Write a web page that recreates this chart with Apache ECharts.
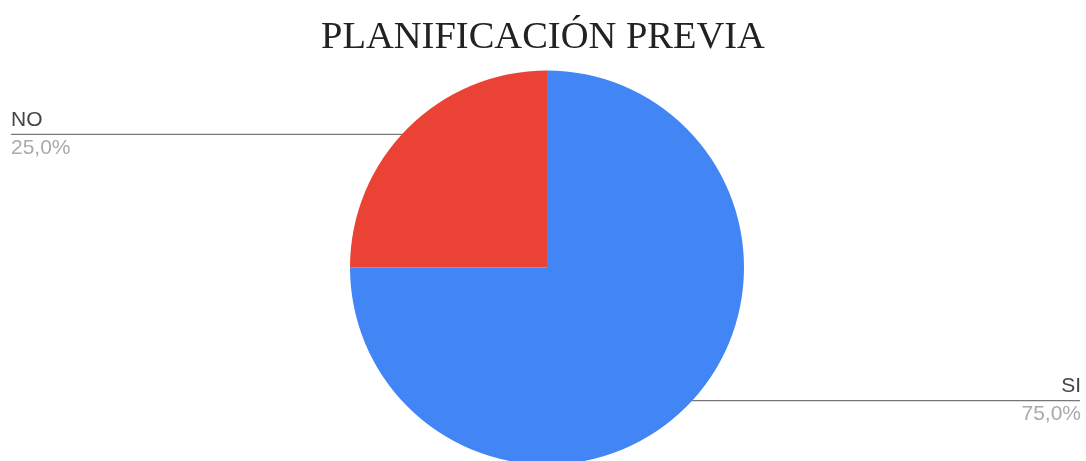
<!DOCTYPE html>
<html>
<head>
<meta charset="utf-8">
<script src="https://cdn.jsdelivr.net/npm/echarts@6/dist/echarts.min.js"></script>
<style>
  html, body { margin: 0; padding: 0; background: #ffffff; }
  #chart { width: 1086px; height: 461px; }
</style>
</head>
<body>
<div id="chart"></div>
<script>
// Answers to the survey question, share of respondents
const categories = ['SI', 'NO'];
const values = [75, 25];
const colors = ['#4285F4', '#EA4335'];
const titleText = 'PLANIFICACIÓN PREVIA';

// Pie geometry (pixels)
const CENTER = [547, 267.5];
const RADIUS = 197;
const LEFT_EDGE = 11;
const RIGHT_EDGE = 1081;

const chart = echarts.init(document.getElementById('chart'), null, { renderer: 'canvas' });

const fmtPct = (p) => p.toFixed(1).replace('.', ',') + '%';

chart.setOption({
  animation: false,
  backgroundColor: '#ffffff',
  title: {
    text: titleText,
    left: 'center',
    top: 13,
    textStyle: {
      fontFamily: '"Liberation Serif", "Times New Roman", serif',
      fontWeight: 'normal',
      fontSize: 38.5,
      color: '#222222'
    }
  },
  series: [{
    type: 'pie',
    center: CENTER,
    radius: RADIUS,
    startAngle: 90,
    clockwise: true,
    data: categories.map((c, i) => ({
      name: c,
      value: values[i],
      itemStyle: { color: colors[i] }
    })),
    label: {
      show: true,
      position: 'outer',
      formatter: (p) => '{n|' + p.name + '}\n{p|' + fmtPct(p.percent) + '}',
      rich: {
        n: { fontFamily: '"Liberation Sans", Arial, sans-serif', fontSize: 21, color: '#444444', lineHeight: 28 },
        p: { fontFamily: '"Liberation Sans", Arial, sans-serif', fontSize: 21, color: '#aaaaaa', lineHeight: 28 }
      }
    },
    labelLine: {
      show: true,
      length: 0,
      length2: 10,
      lineStyle: { color: '#777777', width: 1.3 }
    },
    labelLayout: (params) => {
      const pts = params.labelLinePoints;
      if (!pts) return {};
      // start the leader slightly inside the slice, on its mid-angle
      const sx = CENTER[0] + (pts[0][0] - CENTER[0]) * 0.955;
      const sy = CENTER[1] + (pts[0][1] - CENTER[1]) * 0.955;
      const onLeft = sx < CENTER[0];
      const ex = onLeft ? LEFT_EDGE : RIGHT_EDGE - 1;
      return {
        x: onLeft ? LEFT_EDGE : RIGHT_EDGE,
        y: sy,
        align: onLeft ? 'left' : 'right',
        verticalAlign: 'middle',
        labelLinePoints: [[sx, sy], [sx, sy], [ex, sy]]
      };
    },
    emphasis: { disabled: true }
  }]
});
</script>
</body>
</html>
